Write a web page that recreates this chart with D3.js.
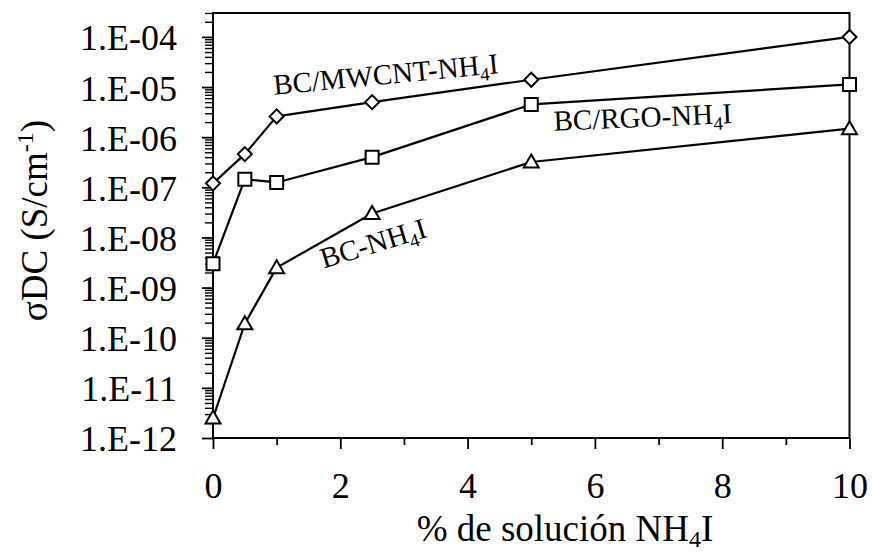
<!DOCTYPE html>
<html>
<head>
<meta charset="utf-8">
<script src="https://cdn.jsdelivr.net/npm/d3@7"></script>
<style>
  body { margin: 0; background: #fff; }
  svg { display: block; }
  text { font-family: "Liberation Serif", "Times New Roman", serif; fill: #000; }
</style>
</head>
<body>
<svg id="chart" width="872" height="557"></svg>
<script>
// NH4I concentration (%) for every sample
const concentrations = [0, 0.5, 1, 2.5, 5, 10];

// DC conductivity (S/cm) of each membrane family
const sigmaMWCNT = [1.2e-7, 4.6e-7, 2.6e-6, 5.0e-6, 1.4e-5, 1.0e-4];
const sigmaRGO   = [3.0e-9, 1.45e-7, 1.25e-7, 4.0e-7, 4.5e-6, 1.13e-5];
const sigmaBC    = [2.5e-12, 1.9e-10, 2.5e-9, 3.0e-8, 3.2e-7, 1.48e-6];

// axis ticks
const xTicks = [0, 2, 4, 6, 8, 10];
const xMinorTicks = [1, 3, 5, 7, 9];
const yTicks = [1e-12, 1e-11, 1e-10, 1e-9, 1e-8, 1e-7, 1e-6, 1e-5, 1e-4];
const yTickLabels = ["1.E-12", "1.E-11", "1.E-10", "1.E-09", "1.E-08", "1.E-07", "1.E-06", "1.E-05", "1.E-04"];

// series names, written next to their curves (anchor in data units, tilt in degrees)
const seriesNames = ["BC/MWCNT-NH", "BC/RGO-NH", "BC-NH"];
const labelAnchorX = [2.73, 6.76, 2.56];
const labelAnchorY = [1.15e-5, 1.6e-6, 5.0e-9];
const labelTilt = [-5.5, -2.5, -17];

const svg = d3.select("#chart");
const plotLeft = 213, plotRight = 849.5, plotTop = 13, plotBottom = 438;

const x = d3.scaleLinear().domain([0, 10]).range([plotLeft, plotRight]);
const y = d3.scaleLog().domain([1e-12, 3e-4]).range([plotBottom, plotTop]);

// minor log ticks: 2..9 x 10^n
const yMinorTicks = [];
for (let e = -12; e <= -4; e++) {
  for (let m = 2; m <= 9; m++) {
    const v = m * Math.pow(10, e);
    if (v <= 3.0001e-4) yMinorTicks.push(v);
  }
}

// y axis
const yMinor = svg.append("g").attr("transform", `translate(${plotLeft},0)`)
  .call(d3.axisLeft(y).tickValues(yMinorTicks).tickSize(8).tickFormat(""));
const yMajor = svg.append("g").attr("transform", `translate(${plotLeft},0)`)
  .call(d3.axisLeft(y).tickValues(yTicks).tickSize(11).tickPadding(25)
    .tickFormat((d, i) => yTickLabels[i]));

// x axis
const xMinor = svg.append("g").attr("transform", `translate(0,${plotBottom})`)
  .call(d3.axisBottom(x).tickValues(xMinorTicks).tickSize(7).tickFormat(""));
const xMajor = svg.append("g").attr("transform", `translate(0,${plotBottom})`)
  .call(d3.axisBottom(x).tickValues(xTicks).tickSize(11).tickPadding(22)
    .tickFormat(d3.format("d")));

[yMinor, yMajor, xMinor, xMajor].forEach(g => {
  g.select(".domain").remove();
  g.selectAll(".tick line").attr("stroke", "#000").attr("stroke-width", 1.8);
  g.selectAll(".tick text").attr("font-size", 36).attr("font-family", "Liberation Serif");
});
yMinor.selectAll(".tick line").attr("stroke-width", 1.4);
yMajor.selectAll(".tick text").attr("dy", "0.36em");
xMajor.selectAll(".tick text").attr("dy", "0.75em");

// plot frame
svg.append("rect")
  .attr("x", plotLeft).attr("y", plotTop)
  .attr("width", plotRight - plotLeft).attr("height", plotBottom - plotTop)
  .attr("fill", "none").attr("stroke", "#000").attr("stroke-width", 2);

// series lines and markers
const series = [
  { values: sigmaMWCNT, marker: "diamond" },
  { values: sigmaRGO, marker: "square" },
  { values: sigmaBC, marker: "triangle" }
];

const line = d3.line().x(d => x(d[0])).y(d => y(d[1]));

function markerPath(kind) {
  if (kind === "diamond") return "M0,-7L7,0L0,7L-7,0Z";
  if (kind === "square") return "M-6.5,-6.5H6.5V6.5H-6.5Z";
  return "M0,-7.5L7.5,5.5H-7.5Z";
}

series.forEach(s => {
  const pts = concentrations.map((c, i) => [c, s.values[i]]);
  svg.append("path")
    .attr("d", line(pts))
    .attr("fill", "none")
    .attr("stroke", "#000")
    .attr("stroke-width", 2.2)
    .attr("stroke-linejoin", "round");
  svg.append("g").selectAll("path")
    .data(pts)
    .join("path")
    .attr("transform", d => `translate(${x(d[0])},${y(d[1])})`)
    .attr("d", markerPath(s.marker))
    .attr("fill", "#fff")
    .attr("stroke", "#000")
    .attr("stroke-width", 2);
});

// series labels with subscript 4
seriesNames.forEach((name, i) => {
  const t = svg.append("text")
    .attr("transform", `translate(${x(labelAnchorX[i])},${y(labelAnchorY[i])}) rotate(${labelTilt[i]})`)
    .attr("text-anchor", "middle")
    .attr("font-size", 29);
  t.append("tspan").text(name);
  t.append("tspan").attr("font-size", 19).attr("dy", 6).text("4");
  t.append("tspan").attr("dy", -6).text("I");
});

// x axis title
const xt = svg.append("text")
  .attr("x", 565)
  .attr("y", 541)
  .attr("text-anchor", "middle")
  .attr("font-size", 37);
xt.append("tspan").text("% de solución NH");
xt.append("tspan").attr("font-size", 24).attr("dy", 6).text("4");
xt.append("tspan").attr("dy", -6).text("I");

// y axis title
const yt = svg.append("text")
  .attr("transform", `translate(47,${(plotTop + plotBottom) / 2 - 5}) rotate(-90)`)
  .attr("text-anchor", "middle")
  .attr("font-size", 37);
yt.append("tspan").text("σDC (S/cm");
yt.append("tspan").attr("font-size", 24).attr("dy", -14).text("-1");
yt.append("tspan").attr("dy", 14).text(")");
</script>
</body>
</html>
